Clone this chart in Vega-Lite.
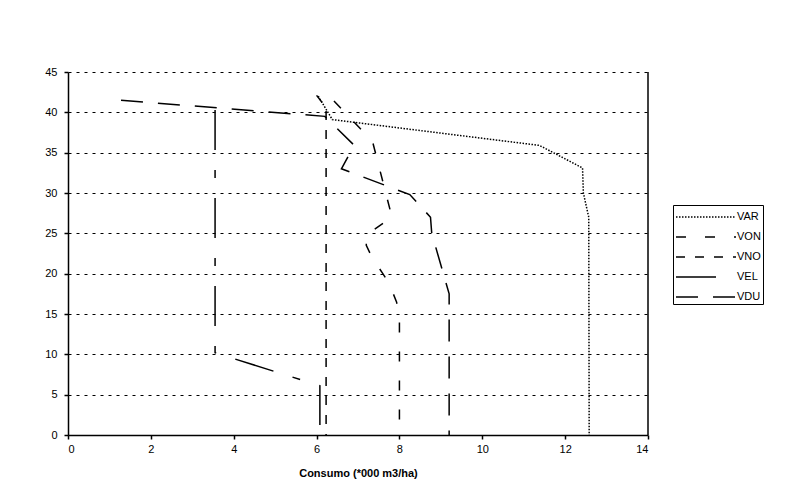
{
  "$schema": "https://vega.github.io/schema/vega-lite/v6.json",
  "width": 580,
  "height": 363,
  "autosize": {"type": "none"},
  "padding": {"left": 68, "top": 72, "right": 161, "bottom": 61},
  "background": "white",
  "config": {"view": {"stroke": null}, "font": "Liberation Sans"},
  "layer": [
    {
      "data": {
        "values": [
          {"serie": "VAR", "ord": 1, "consumo": 6.04, "prof": 42.0},
          {"serie": "VAR", "ord": 2, "consumo": 6.38, "prof": 39.1},
          {"serie": "VAR", "ord": 3, "consumo": 11.38, "prof": 35.9},
          {"serie": "VAR", "ord": 4, "consumo": 12.42, "prof": 33.1},
          {"serie": "VAR", "ord": 5, "consumo": 12.44, "prof": 30.0},
          {"serie": "VAR", "ord": 6, "consumo": 12.57, "prof": 27.0},
          {"serie": "VAR", "ord": 7, "consumo": 12.58, "prof": 0},
          {"serie": "VNO", "ord": 1, "consumo": 6.0, "prof": 42.1},
          {"serie": "VNO", "ord": 2, "consumo": 6.23, "prof": 40.6},
          {"serie": "VNO", "ord": 3, "consumo": 6.23, "prof": 0},
          {"serie": "VON", "ord": 1, "consumo": 6.42, "prof": 41.4},
          {"serie": "VON", "ord": 2, "consumo": 7.35, "prof": 36.4},
          {"serie": "VON", "ord": 3, "consumo": 7.82, "prof": 27.0},
          {"serie": "VON", "ord": 4, "consumo": 7.2, "prof": 24.8},
          {"serie": "VON", "ord": 5, "consumo": 7.2, "prof": 23.5},
          {"serie": "VON", "ord": 6, "consumo": 7.35, "prof": 21.9},
          {"serie": "VON", "ord": 7, "consumo": 7.6, "prof": 20.0},
          {"serie": "VON", "ord": 8, "consumo": 7.75, "prof": 18.8},
          {"serie": "VON", "ord": 9, "consumo": 7.93, "prof": 16.5},
          {"serie": "VON", "ord": 10, "consumo": 8.0, "prof": 15.0},
          {"serie": "VON", "ord": 11, "consumo": 8.0, "prof": 0},
          {"serie": "VEL", "ord": 1, "consumo": 3.55, "prof": 40.3},
          {"serie": "VEL", "ord": 2, "consumo": 3.55, "prof": 10.2},
          {"serie": "VEL", "ord": 3, "consumo": 6.08, "prof": 6.1},
          {"serie": "VEL", "ord": 4, "consumo": 6.08, "prof": 0},
          {"serie": "VDU", "ord": 1, "consumo": 1.28, "prof": 41.5},
          {"serie": "VDU", "ord": 2, "consumo": 6.2, "prof": 39.5},
          {"serie": "VDU", "ord": 3, "consumo": 6.91, "prof": 35.9},
          {"serie": "VDU", "ord": 4, "consumo": 6.6, "prof": 33.0},
          {"serie": "VDU", "ord": 5, "consumo": 8.25, "prof": 29.8},
          {"serie": "VDU", "ord": 6, "consumo": 8.75, "prof": 27.0},
          {"serie": "VDU", "ord": 7, "consumo": 8.78, "prof": 25.0},
          {"serie": "VDU", "ord": 8, "consumo": 9.2, "prof": 17.5},
          {"serie": "VDU", "ord": 9, "consumo": 9.2, "prof": 0}
        ]
      },
      "mark": {"type": "line", "color": "black", "strokeWidth": 1.5, "strokeCap": "butt"},
      "encoding": {
        "x": {
          "field": "consumo", "type": "quantitative",
          "scale": {"domain": [0, 14], "nice": false, "zero": false},
          "axis": {
            "title": "Consumo (*000 m3/ha)",
            "values": [0, 2, 4, 6, 8, 10, 12, 14],
            "grid": false,
            "domainColor": "black", "domainWidth": 1.5,
            "tickColor": "black", "tickSize": 4, "tickWidth": 1.5,
            "labelFont": "Liberation Sans", "labelFontSize": 11, "labelColor": "black", "labelPadding": 4,
            "titleFont": "Liberation Sans", "titleFontSize": 11, "titleFontWeight": "bold", "titleColor": "black", "titlePadding": 13
          }
        },
        "y": {
          "field": "prof", "type": "quantitative",
          "scale": {"domain": [0, 45], "nice": false, "zero": false},
          "axis": {
            "title": null,
            "values": [0, 5, 10, 15, 20, 25, 30, 35, 40, 45],
            "grid": true, "gridColor": "black", "gridDash": [3, 5], "gridWidth": 1, "gridOpacity": 1,
            "domainColor": "black", "domainWidth": 1.5,
            "tickColor": "black", "tickSize": 4, "tickWidth": 1.5,
            "labelFont": "Liberation Sans", "labelFontSize": 11, "labelColor": "black", "labelPadding": 7
          }
        },
        "order": {"field": "ord", "type": "quantitative"},
        "strokeDash": {
          "field": "serie", "type": "nominal",
          "scale": {
            "domain": ["VAR", "VON", "VNO", "VEL", "VDU"],
            "range": [[1.5, 1.5], [10, 19], [9, 10], [40, 20, 8, 20], [22, 15]]
          },
          "legend": {
            "title": null,
            "orient": "none", "legendX": 605, "legendY": 133,
            "symbolType": "M-1,0H5.667", "symbolSize": 324, "symbolStrokeWidth": 1.5, "symbolStrokeColor": "black",
            "strokeColor": "black", "padding": 2,
            "labelFont": "Liberation Sans", "labelFontSize": 11, "labelColor": "black", "labelOffset": 42,
            "labelExpr": "datum.label + '\u00a0\u00a0\u00a0\u00a0\u00a0\u00a0'",
            "rowPadding": 5
          }
        }
      }
    },
    {
      "data": {"values": [{"borde": 14}]},
      "mark": {"type": "rule", "color": "black", "strokeWidth": 1.5},
      "encoding": {"x": {"field": "borde", "type": "quantitative"}}
    }
  ]
}
